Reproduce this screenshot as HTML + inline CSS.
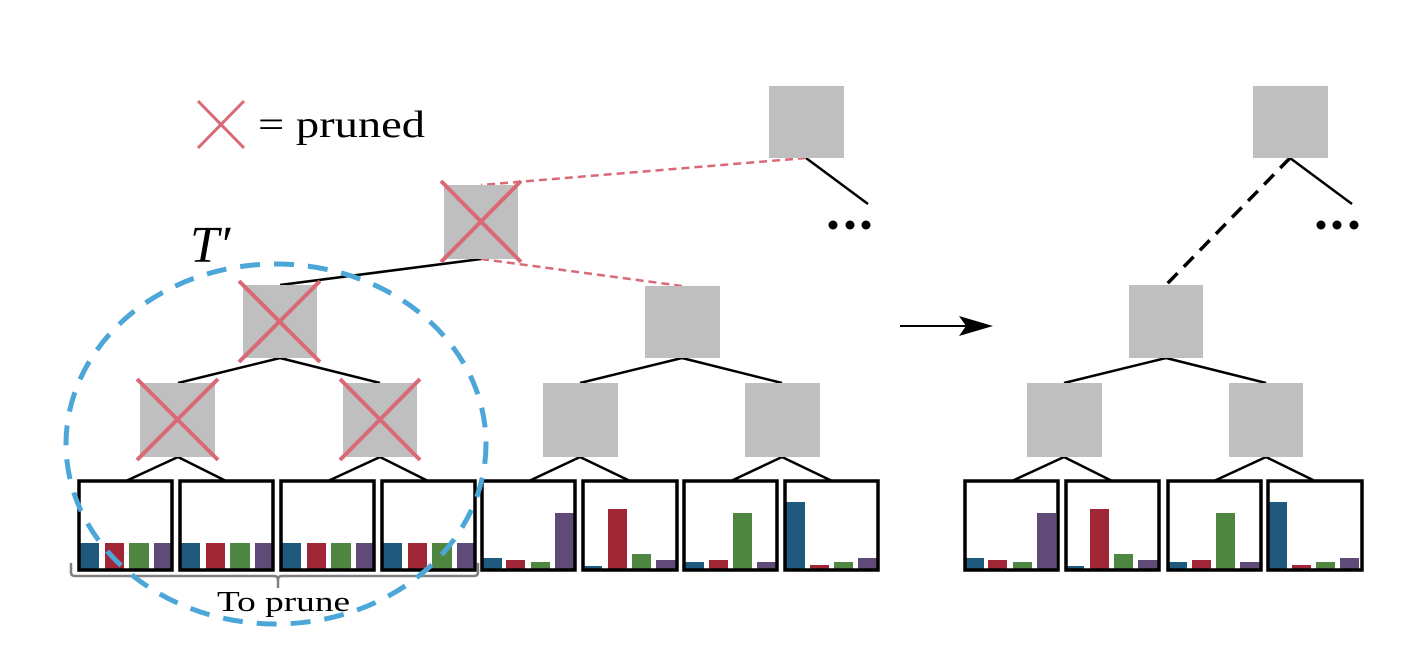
<!DOCTYPE html>
<html><head><meta charset="utf-8"><style>
html,body{margin:0;padding:0;background:#fff;}
svg{display:block;}
text{font-family:"Liberation Serif",serif;fill:#000;}
</style></head><body>
<svg width="1407" height="665" viewBox="0 0 1407 665" xmlns="http://www.w3.org/2000/svg">
<!-- legend -->
<g stroke="#d96a75" stroke-width="3">
<line x1="198" y1="101" x2="244" y2="148"/><line x1="244" y1="101" x2="198" y2="148"/>
</g>
<text x="258" y="137" font-size="38" textLength="167" lengthAdjust="spacingAndGlyphs">= pruned</text>
<text x="190" y="262" font-size="52" font-style="italic">T′</text>

<!-- edges -->
<g stroke="#000" stroke-width="2.5" fill="none">
<line x1="806" y1="158" x2="868" y2="204"/>
<line x1="481" y1="259" x2="280" y2="285"/>
<line x1="280" y1="358" x2="178" y2="383"/><line x1="280" y1="358" x2="380" y2="383"/>
<line x1="682" y1="358" x2="580" y2="383"/><line x1="682" y1="358" x2="782" y2="383"/>
<line x1="178" y1="457" x2="126" y2="481"/><line x1="178" y1="457" x2="226" y2="481"/>
<line x1="380" y1="457" x2="328" y2="481"/><line x1="380" y1="457" x2="428" y2="481"/>
<line x1="580" y1="457" x2="529" y2="481"/><line x1="580" y1="457" x2="630" y2="481"/>
<line x1="782" y1="457" x2="731" y2="481"/><line x1="782" y1="457" x2="832" y2="481"/>
<line x1="1290" y1="158" x2="1352" y2="204"/>
<line x1="1166" y1="358" x2="1064" y2="383"/><line x1="1166" y1="358" x2="1266" y2="383"/>
<line x1="1064" y1="457" x2="1012" y2="481"/><line x1="1064" y1="457" x2="1112" y2="481"/>
<line x1="1266" y1="457" x2="1214" y2="481"/><line x1="1266" y1="457" x2="1315" y2="481"/>
</g>
<g stroke="#d96a75" stroke-width="2.5" stroke-dasharray="8,5">
<line x1="806" y1="158" x2="481" y2="185"/>
<line x1="481" y1="259" x2="682" y2="286"/>
</g>
<line x1="1290" y1="158" x2="1166" y2="285" stroke="#000" stroke-width="3.5" stroke-dasharray="14,9"/>
<g fill="#000">
<circle cx="833" cy="225" r="4.5"/><circle cx="850" cy="225" r="4.5"/><circle cx="866" cy="225" r="4.5"/>
<circle cx="1321" cy="225" r="4.5"/><circle cx="1337" cy="225" r="4.5"/><circle cx="1354" cy="225" r="4.5"/>
</g>
<!-- arrow -->
<line x1="900" y1="326" x2="975" y2="326" stroke="#000" stroke-width="2"/>
<path d="M993,326 L959,316 L966,326 L959,336 Z" fill="#000"/>

<!-- gray nodes -->
<g fill="#bfbfbf">
<rect x="769" y="86" width="75" height="72"/>
<rect x="444" y="185" width="74" height="74"/>
<rect x="645" y="286" width="75" height="72"/>
<rect x="243" y="285" width="74" height="73"/>
<rect x="140" y="383" width="75" height="74"/>
<rect x="343" y="383" width="74" height="74"/>
<rect x="543" y="383" width="75" height="74"/>
<rect x="745" y="383" width="75" height="74"/>
<rect x="1253" y="86" width="75" height="72"/>
<rect x="1129" y="285" width="74" height="73"/>
<rect x="1027" y="383" width="75" height="74"/>
<rect x="1229" y="383" width="74" height="74"/>
</g>
<!-- red X on pruned -->
<g stroke="#d96a75" stroke-width="4">
<line x1="441" y1="181" x2="521" y2="262"/><line x1="521" y1="181" x2="441" y2="262"/>
<line x1="239" y1="281" x2="320" y2="362"/><line x1="320" y1="281" x2="239" y2="362"/>
<line x1="137" y1="379" x2="218" y2="460"/><line x1="218" y1="379" x2="137" y2="460"/>
<line x1="340" y1="379" x2="420" y2="460"/><line x1="420" y1="379" x2="340" y2="460"/>
</g>

<!-- leaf bars -->
<g>
<g id="u">
<rect x="80" y="543" width="19" height="27" fill="#1f5a7e"/>
<rect x="105" y="543" width="19" height="27" fill="#a12636"/>
<rect x="129" y="543" width="20" height="27" fill="#4f8642"/>
<rect x="154" y="543" width="19" height="27" fill="#604a77"/>
</g>
<use href="#u" x="101"/><use href="#u" x="202"/><use href="#u" x="303"/>
<g id="a">
<rect x="483" y="558" width="19" height="12" fill="#1f5a7e"/>
<rect x="506" y="560" width="19" height="10" fill="#a12636"/>
<rect x="531" y="562" width="19" height="8" fill="#4f8642"/>
<rect x="555" y="513" width="19" height="57" fill="#604a77"/>
</g>
<g id="b">
<rect x="583" y="566" width="19" height="4" fill="#1f5a7e"/>
<rect x="608" y="509" width="19" height="61" fill="#a12636"/>
<rect x="632" y="554" width="19" height="16" fill="#4f8642"/>
<rect x="656" y="560" width="20" height="10" fill="#604a77"/>
</g>
<g id="c">
<rect x="685" y="562" width="19" height="8" fill="#1f5a7e"/>
<rect x="709" y="560" width="19" height="10" fill="#a12636"/>
<rect x="733" y="513" width="19" height="57" fill="#4f8642"/>
<rect x="757" y="562" width="20" height="8" fill="#604a77"/>
</g>
<g id="d">
<rect x="786" y="502" width="19" height="68" fill="#1f5a7e"/>
<rect x="810" y="565" width="19" height="5" fill="#a12636"/>
<rect x="834" y="562" width="19" height="8" fill="#4f8642"/>
<rect x="858" y="558" width="19" height="12" fill="#604a77"/>
</g>
<use href="#a" x="482"/><use href="#b" x="482"/><use href="#c" x="483"/><use href="#d" x="482"/>
</g>
<!-- leaf boxes -->
<g fill="none" stroke="#000" stroke-width="3.5">
<rect x="79" y="481" width="93" height="89"/>
<rect x="180" y="481" width="93" height="89"/>
<rect x="281" y="481" width="93" height="89"/>
<rect x="382" y="481" width="93" height="89"/>
<rect x="482" y="481" width="93" height="89"/>
<rect x="583" y="481" width="94" height="89"/>
<rect x="684" y="481" width="93" height="89"/>
<rect x="785" y="481" width="93" height="89"/>
<rect x="965" y="481" width="93" height="89"/>
<rect x="1066" y="481" width="93" height="89"/>
<rect x="1168" y="481" width="93" height="89"/>
<rect x="1268" y="481" width="94" height="89"/>
</g>

<!-- brace -->
<path d="M71,563 L71,572 Q71,576 75,576 L274,576 Q278,576 278,580 L278,588 L278,580 Q278,576 282,576 L474,576 Q478,576 478,572 L478,563" fill="none" stroke="#808080" stroke-width="2.5"/>
<text x="217" y="611" font-size="29" textLength="133" lengthAdjust="spacingAndGlyphs">To prune</text>

<!-- blue ellipse -->
<ellipse cx="276" cy="444" rx="210" ry="180" fill="none" stroke="#4da6d8" stroke-width="5" stroke-dasharray="20,14"/>
</svg>
</body></html>
